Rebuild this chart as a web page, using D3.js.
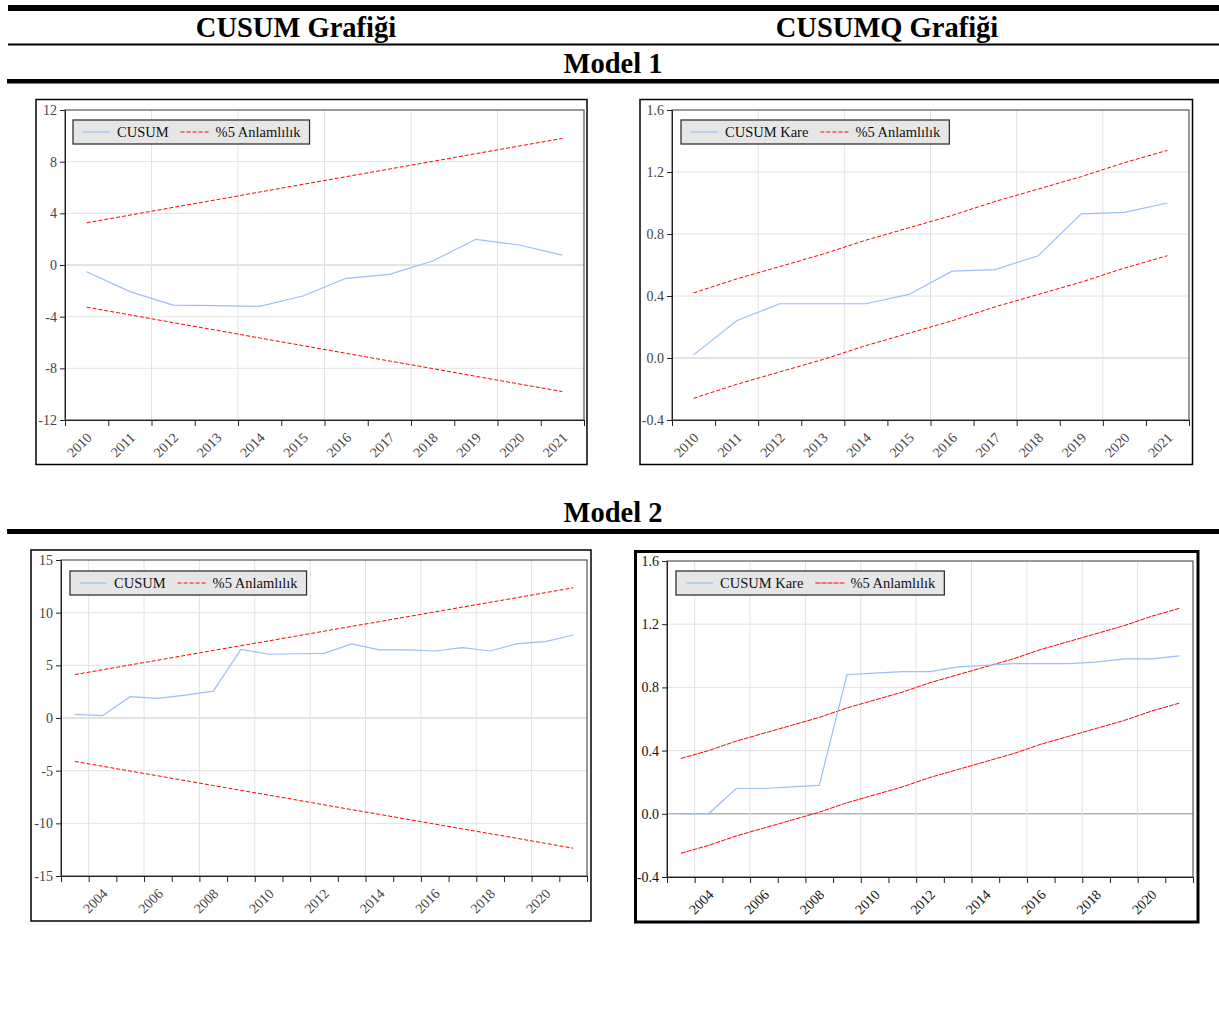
<!DOCTYPE html>
<html>
<head>
<meta charset="utf-8">
<script src="https://d3js.org/d3.v7.min.js"></script>
<style>
  body { margin: 0; background: #fff; }
  text { font-family: "Liberation Serif", "Times New Roman", serif; }
</style>
</head>
<body>
<svg id="chart" width="1219" height="1012"></svg>
<script>
// ---- Model 1 (2010-2021) ----
var m1Years = [2010, 2011, 2012, 2013, 2014, 2015, 2016, 2017, 2018, 2019, 2020, 2021];
var m1Cusum = [-0.52, -2.06, -3.1, -3.15, -3.2, -2.4, -1.03, -0.72, 0.31, 1.99, 1.55, 0.77];
var m1CusumUpper = [3.27, 3.86, 4.46, 5.05, 5.65, 6.24, 6.84, 7.43, 8.02, 8.62, 9.21, 9.80];
var m1CusumLower = [-3.27, -3.86, -4.46, -5.05, -5.65, -6.24, -6.84, -7.43, -8.02, -8.62, -9.21, -9.80];
var m1Cusumsq = [0.02, 0.24, 0.35, 0.35, 0.35, 0.41, 0.56, 0.57, 0.66, 0.93, 0.94, 1.0];
var m1SqUpper = [0.42, 0.51, 0.59, 0.67, 0.76, 0.84, 0.92, 1.01, 1.09, 1.17, 1.26, 1.34];
var m1SqLower = [-0.26, -0.17, -0.09, -0.01, 0.08, 0.16, 0.24, 0.33, 0.41, 0.49, 0.58, 0.66];

// ---- Model 2 (2003-2021) ----
var m2Years = [2003, 2004, 2005, 2006, 2007, 2008, 2009, 2010, 2011, 2012, 2013, 2014, 2015, 2016, 2017, 2018, 2019, 2020, 2021];
var m2Cusum = [0.35, 0.22, 2.02, 1.87, 2.18, 2.55, 6.52, 6.05, 6.1, 6.14, 7.03, 6.46, 6.46, 6.36, 6.68, 6.36, 7.06, 7.25, 7.88];
var m2CusumUpper = [4.12, 4.58, 5.04, 5.49, 5.95, 6.41, 6.87, 7.32, 7.78, 8.24, 8.70, 9.15, 9.61, 10.07, 10.53, 10.98, 11.44, 11.90, 12.36];
var m2CusumLower = [-4.12, -4.58, -5.04, -5.49, -5.95, -6.41, -6.87, -7.32, -7.78, -8.24, -8.70, -9.15, -9.61, -10.07, -10.53, -10.98, -11.44, -11.90, -12.36];
var m2Cusumsq = [0.0, 0.0, 0.16, 0.16, 0.17, 0.18, 0.88, 0.89, 0.90, 0.90, 0.93, 0.94, 0.95, 0.95, 0.95, 0.96, 0.98, 0.98, 1.0];
var m2SqUpper = [0.35, 0.40, 0.46, 0.51, 0.56, 0.61, 0.67, 0.72, 0.77, 0.83, 0.88, 0.93, 0.98, 1.04, 1.09, 1.14, 1.19, 1.25, 1.30];
var m2SqLower = [-0.25, -0.20, -0.14, -0.09, -0.04, 0.01, 0.07, 0.12, 0.17, 0.23, 0.28, 0.33, 0.38, 0.44, 0.49, 0.54, 0.59, 0.65, 0.70];

// tick labels / gridlines
var cusumTicks1 = [-12, -8, -4, 0, 4, 8, 12];
var cusumTicks2 = [-15, -10, -5, 0, 5, 10, 15];
var sqTicks = [-0.4, 0.0, 0.4, 0.8, 1.2, 1.6];
var m1LabelYears = m1Years;
var m1GridYears = [2012, 2014, 2016, 2018, 2020];
var m2LabelYears = [2004, 2006, 2008, 2010, 2012, 2014, 2016, 2018, 2020];
var m2GridYears = [2004, 2006, 2008, 2010, 2012, 2014, 2016, 2018, 2020];

var svg = d3.select("#chart");

// header rules and titles
svg.append("rect").attr("x", 8).attr("y", 5).attr("width", 1211).attr("height", 6).attr("fill", "#000");
svg.append("rect").attr("x", 8).attr("y", 43.5).attr("width", 1211).attr("height", 2).attr("fill", "#000");
svg.append("rect").attr("x", 7).attr("y", 79).attr("width", 1212).attr("height", 4.5).attr("fill", "#000");
svg.append("rect").attr("x", 7).attr("y", 529).attr("width", 1212).attr("height", 5).attr("fill", "#000");

function title(txt, x, y) {
    svg.append("text").attr("x", x).attr("y", y)
        .attr("text-anchor", "middle")
        .attr("font-size", 28.5).attr("font-weight", "bold")
        .text(txt);
}
title("CUSUM Grafiği", 296, 37);
title("CUSUMQ Grafiği", 887, 37);
title("Model 1", 613, 73);
title("Model 2", 613, 522);

function drawPanel(p) {
    var g = svg.append("g");

    g.append("rect")
        .attr("x", p.box[0]).attr("y", p.box[1])
        .attr("width", p.box[2] - p.box[0]).attr("height", p.box[3] - p.box[1])
        .attr("fill", "#fff").attr("stroke", "#000").attr("stroke-width", p.boxW);

    var first = p.years[0], last = p.years[p.years.length - 1] + 1;
    var x = d3.scaleLinear().domain([first, last]).range([p.left, p.right]);
    var y = d3.scaleLinear().domain(p.yDomain).range([p.bottom, p.top]);

    // gridlines
    g.selectAll(".hg").data(p.yTicks.slice(1, -1)).enter().append("line")
        .attr("x1", p.left).attr("x2", p.right)
        .attr("y1", d => y(d)).attr("y2", d => y(d))
        .attr("stroke", d => d === 0 ? p.zeroColor : "#e2e2e2")
        .attr("stroke-width", d => d === 0 ? 1.5 : 1);
    g.selectAll(".vg").data(p.gridYears).enter().append("line")
        .attr("x1", d => x(d)).attr("x2", d => x(d))
        .attr("y1", p.top).attr("y2", p.bottom)
        .attr("stroke", "#e2e2e2");

    // plot frame
    g.append("rect")
        .attr("x", p.left).attr("y", p.top)
        .attr("width", p.right - p.left).attr("height", p.bottom - p.top)
        .attr("fill", "none").attr("stroke", "#555").attr("stroke-width", 1.2);

    var line = function(vals) {
        return d3.line()
            .x((d, i) => x(p.years[i] + 0.5))
            .y(d => y(d))(vals);
    };

    g.append("path").attr("d", line(p.upper)).attr("fill", "none")
        .attr("stroke", "#ff0000").attr("stroke-width", 1).attr("stroke-dasharray", p.dash);
    g.append("path").attr("d", line(p.lower)).attr("fill", "none")
        .attr("stroke", "#ff0000").attr("stroke-width", 1).attr("stroke-dasharray", p.dash);
    g.append("path").attr("d", line(p.series)).attr("fill", "none")
        .attr("stroke", "#9dbff5").attr("stroke-width", 1.2);

    // y axis
    var ya = g.append("g").attr("transform", "translate(" + p.left + ",0)")
        .call(d3.axisLeft(y).tickValues(p.yTicks).tickSize(5).tickPadding(3).tickFormat(p.fmt));
    ya.select(".domain").attr("stroke", "#222");
    ya.selectAll(".tick line").attr("stroke", "#222");
    ya.selectAll("text").attr("font-family", "Liberation Serif, serif").attr("font-size", 14).attr("fill", p.tickColor);

    // x axis: year boundary ticks
    var xa = g.append("g").attr("transform", "translate(0," + p.bottom + ")")
        .call(d3.axisBottom(x).tickValues(d3.range(first, last + 1)).tickSize(6).tickSizeOuter(0).tickFormat(""));
    xa.select(".domain").attr("stroke", "#222");
    xa.selectAll(".tick line").attr("stroke", "#222");

    // x labels centred on the year
    var xl = g.append("g").attr("transform", "translate(0," + p.bottom + ")")
        .call(d3.axisBottom(x).tickValues(p.labelYears.map(v => v + 0.5)).tickSize(0).tickFormat(d => Math.floor(d)));
    xl.select(".domain").remove();
    xl.selectAll("text")
        .attr("x", 0).attr("y", 0).attr("dy", "0.35em")
        .attr("transform", "translate(2,15) rotate(-45)")
        .attr("text-anchor", "end")
        .attr("font-family", "Liberation Serif, serif").attr("font-size", 14).attr("fill", p.tickColor);

    // legend
    var lg = g.append("g");
    var box = lg.append("rect")
        .attr("x", p.legend[0]).attr("y", p.legend[1])
        .attr("height", 24)
        .attr("fill", "#e6e6e6").attr("stroke", "#333").attr("stroke-width", 1.3);
    var ly = p.legend[1] + 12;
    var cx = p.legend[0] + 10;
    lg.append("line").attr("x1", cx).attr("x2", cx + 27).attr("y1", ly).attr("y2", ly)
        .attr("stroke", "#9dbff5").attr("stroke-width", 1.2);
    cx += 34;
    var t1 = lg.append("text").attr("x", cx).attr("y", ly + 5).attr("font-size", 14.5).attr("fill", "#111").text(p.name);
    cx += t1.node().getComputedTextLength() + 12;
    lg.append("line").attr("x1", cx).attr("x2", cx + 29).attr("y1", ly).attr("y2", ly)
        .attr("stroke", "#ff0000").attr("stroke-width", 1).attr("stroke-dasharray", p.dash);
    cx += 35;
    var t2 = lg.append("text").attr("x", cx).attr("y", ly + 5).attr("font-size", 14.5).attr("fill", "#111").text("%5 Anlamlılık");
    cx += t2.node().getComputedTextLength() + 9;
    box.attr("width", cx - p.legend[0]);
}

drawPanel({
    box: [36, 99.5, 587, 464.5], boxW: 1.5,
    left: 65, right: 584, top: 110, bottom: 420,
    years: m1Years, series: m1Cusum, upper: m1CusumUpper, lower: m1CusumLower,
    yDomain: [-12, 12], yTicks: cusumTicks1, fmt: d => String(d),
    labelYears: m1LabelYears, gridYears: m1GridYears,
    legend: [73, 120], name: "CUSUM", dash: "4,2", zeroColor: "#dadada", tickColor: "#444"
});
drawPanel({
    box: [640, 99.5, 1192.5, 464.5], boxW: 1.5,
    left: 672, right: 1189, top: 110, bottom: 420,
    years: m1Years, series: m1Cusumsq, upper: m1SqUpper, lower: m1SqLower,
    yDomain: [-0.4, 1.6], yTicks: sqTicks, fmt: d => d.toFixed(1),
    labelYears: m1LabelYears, gridYears: m1GridYears,
    legend: [681, 120], name: "CUSUM Kare", dash: "4,2", zeroColor: "#dadada", tickColor: "#444"
});
drawPanel({
    box: [31, 550, 591, 921], boxW: 1.5,
    left: 61, right: 587, top: 560, bottom: 876,
    years: m2Years, series: m2Cusum, upper: m2CusumUpper, lower: m2CusumLower,
    yDomain: [-15, 15], yTicks: cusumTicks2, fmt: d => String(d),
    labelYears: m2LabelYears, gridYears: m2GridYears,
    legend: [70, 571], name: "CUSUM", dash: "4,2", zeroColor: "#dadada", tickColor: "#444"
});
drawPanel({
    box: [635.5, 551.5, 1198, 922], boxW: 3,
    left: 667, right: 1193, top: 561, bottom: 877,
    years: m2Years, series: m2Cusumsq, upper: m2SqUpper, lower: m2SqLower,
    yDomain: [-0.4, 1.6], yTicks: sqTicks, fmt: d => d.toFixed(1),
    labelYears: m2LabelYears, gridYears: m2GridYears,
    legend: [676, 571], name: "CUSUM Kare", dash: "5,1", zeroColor: "#b5b5b5", tickColor: "#111"
});
</script>
</body>
</html>
